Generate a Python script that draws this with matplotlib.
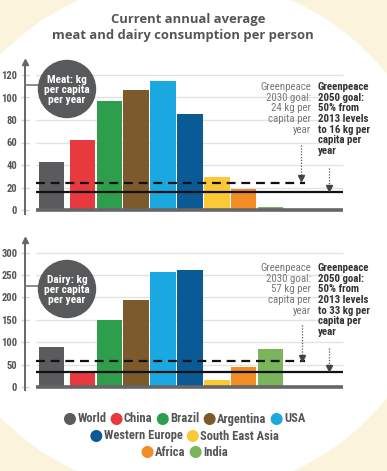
import matplotlib
matplotlib.use("Agg")
import matplotlib.pyplot as plt
from matplotlib import font_manager
from matplotlib.patches import Circle, Rectangle
import numpy as np

# ---------------- data ----------------
countries = ["World", "China", "Brazil", "Argentina", "USA",
             "Western Europe", "South East Asia", "Africa", "India"]
colors = ["#5b5b5e", "#e8393f", "#2e9e4c", "#7c5a2b", "#1ba8e0",
          "#0a5a96", "#fbc936", "#f28c24", "#7ab55c"]
meat = [43, 62, 97, 107, 115, 85, 29, 19, 3]
dairy = [89, 33, 150, 195, 256, 262, 16, 44, 84]
meat_goal_2030 = 24
meat_goal_2050 = 16
dairy_goal_2030 = 57
dairy_goal_2050 = 33
meat_ticks = [0, 20, 40, 60, 80, 100, 120]
dairy_ticks = [0, 50, 100, 150, 200, 250, 300]
title_lines = ["Current annual average", "meat and dairy consumption per person"]
meat_label = "Meat: kg\nper capita\nper year"
dairy_label = "Dairy: kg\nper capita\nper year"
meat_2030_text = "Greenpeace\n2030 goal:\n24 kg per\ncapita per\nyear"
meat_2050_text = "Greenpeace\n2050 goal:\n50% from\n2013 levels\nto 16 kg per\ncapita per\nyear"
dairy_2030_text = "Greenpeace\n2030 goal:\n57 kg per\ncapita per\nyear"
dairy_2050_text = "Greenpeace\n2050 goal:\n50% from\n2013 levels\nto 33 kg per\ncapita per\nyear"
legend_rows = [[0, 1, 2, 3, 4], [5, 6], [7, 8]]

# ---------------- fonts ----------------
avail = {f.name for f in font_manager.fontManager.ttflist}
def pick(*names):
    for n in names:
        if n in avail:
            return n
    return "DejaVu Sans"
COND = pick("Liberation Sans Narrow", "Roboto Condensed", "Open Sans Condensed", "Roboto", "DejaVu Sans")
TITLEF = pick("Open Sans", "Lato", "DejaVu Sans")

W, H = 387, 471
DPI = 100
fig = plt.figure(figsize=(W / DPI, H / DPI), dpi=DPI)

def px_axes(left, top, right, bottom, **kw):
    return fig.add_axes([left / W, 1 - bottom / H, (right - left) / W, (bottom - top) / H], **kw)

# background
bg = px_axes(0, 0, W, H, zorder=-5)
bg.set_xlim(0, W); bg.set_ylim(H, 0); bg.axis("off")
bg.add_patch(Rectangle((0, 0), W, H, color="#fcf3dc"))
bg.add_patch(Circle((185, 236), 258, color="white"))

# x positions of bars (World offset a bit)
xpos = np.arange(len(countries), dtype=float)
xpos[0] -= 0.15
px_per_unit = 26.86
def px2x(px):
    return 1 + (px - 82.5) / px_per_unit

GRAY = "#58595b"

def make_panel(top, bottom, vals, ticks, y0px, ytoppx, g2030, g2050, dash_end_px):
    ax = px_axes(25, top, 344, bottom)
    ax.patch.set_alpha(0)
    ppu = (y0px - ytoppx) / ticks[-1]
    ylo = -(bottom - y0px) / ppu
    yhi = ticks[-1] + (ytoppx - top) / ppu
    ax.set_ylim(ylo, yhi)
    ax.set_xlim(px2x(25), px2x(344))
    xl = px2x(36)
    xr = px2x(343)
    for t in ticks[1:]:
        ax.hlines(t, xl, xr, color="#e2e2e2", lw=1, zorder=1)
    ax.bar(xpos, vals, width=0.95, color=colors, zorder=2)
    ax.hlines(0, xl, xr, color="#666666", lw=2.6, zorder=3)
    ax.hlines(g2050, xl, xr, color="#111111", lw=1.6, zorder=4)
    ax.hlines(g2030, xl, px2x(dash_end_px), color="#111111", lw=1.6,
              linestyles=(0, (4, 2.6)), zorder=4)
    for s in ["top", "right", "bottom"]:
        ax.spines[s].set_visible(False)
    ax.spines["left"].set_color("#666666")
    ax.spines["left"].set_linewidth(1.4)
    ax.plot(0, 1, marker="^", color="#666666", markersize=4.5,
            transform=ax.transAxes, clip_on=False, zorder=5)
    ax.set_xticks([])
    ax.set_yticks(ticks)
    ax.set_yticklabels([str(t) for t in ticks])
    ax.tick_params(axis="y", direction="inout", length=6, width=1, color="#d5d5d5",
                   pad=2.5, labelsize=7.6, labelcolor="#555555")
    ax.yaxis.get_major_ticks()[0].tick1line.set_color("#666666")
    for lab in ax.get_yticklabels():
        lab.set_fontfamily(COND)
        lab.set_fontweight("bold")
    return ax

ax1 = make_panel(62, 214, meat, meat_ticks, 210, 75, meat_goal_2030, meat_goal_2050, 305)
ax2 = make_panel(240, 390, dairy, dairy_ticks, 387, 252.7, dairy_goal_2030, dairy_goal_2050, 305)

# foreground overlay
fg = px_axes(0, 0, W, H, zorder=10)
fg.patch.set_alpha(0)
fg.set_xlim(0, W); fg.set_ylim(H, 0); fg.axis("off")

fg.text(188, 19, title_lines[0], ha="center", va="center", fontsize=9.4,
        fontweight="bold", color="#555555", family=TITLEF)
fg.text(183, 35, title_lines[1], ha="center", va="center", fontsize=9.4,
        fontweight="bold", color="#555555", family=TITLEF)

# label circles
for (cx, cy, ly, txt) in [(67, 89, 85, meat_label), (67, 289, 286, dairy_label)]:
    fg.plot([25, 45], [ly, ly], color="#777777", lw=1.2)
    fg.add_patch(Circle((cx, cy), 28.5, color=GRAY, zorder=3))
    fg.text(cx, cy + 1, txt, ha="center", va="center", color="white", fontsize=8.2,
            fontweight="bold", family=COND, linespacing=1.0, zorder=4)

# goal annotations
def goal_annot(ytop, t30, t50, a30, a50):
    fg.text(311, ytop, t30, ha="right", va="top", fontsize=7.8, color="#777777",
            family=COND, linespacing=1.08)
    fg.text(318, ytop, t50, ha="left", va="top", fontsize=7.8, color="#333333",
            family=COND, fontweight="bold", linespacing=1.08)
    for (x, y1, y2) in [a30, a50]:
        fg.plot([x, x], [y1, y2 - 4], color="#555555", lw=0.9, ls=(0, (1, 1.3)))
        fg.plot(x, y2 - 2, marker="v", color="#444444", markersize=4)

goal_annot(82, meat_2030_text, meat_2050_text, (301, 145, 180), (329, 168, 190))
goal_annot(263, dairy_2030_text, dairy_2050_text, (302, 325, 360), (329, 348, 370))

# legend (rows centered)
legend_y = [419, 436, 452]
fig.canvas.draw()
renderer = fig.canvas.get_renderer()
for row, y in zip(legend_rows, legend_y):
    items = []
    for i in row:
        t = fg.text(0, y, countries[i], ha="left", va="center", fontsize=9,
                    fontweight="bold", color="#555555", family=COND)
        bb = t.get_window_extent(renderer)
        items.append((i, t, bb.width))
    r = 5.3
    gap_circ = 2
    gap_item = 5
    total = sum(2 * r + gap_circ + w for _, _, w in items) + gap_item * (len(items) - 1)
    x = 185 - total / 2
    for i, t, w in items:
        fg.add_patch(Circle((x + r, y), r, color=colors[i]))
        t.set_x(x + 2 * r + gap_circ)
        x += 2 * r + gap_circ + w + gap_item

fig.savefig("out.png", dpi=DPI)
